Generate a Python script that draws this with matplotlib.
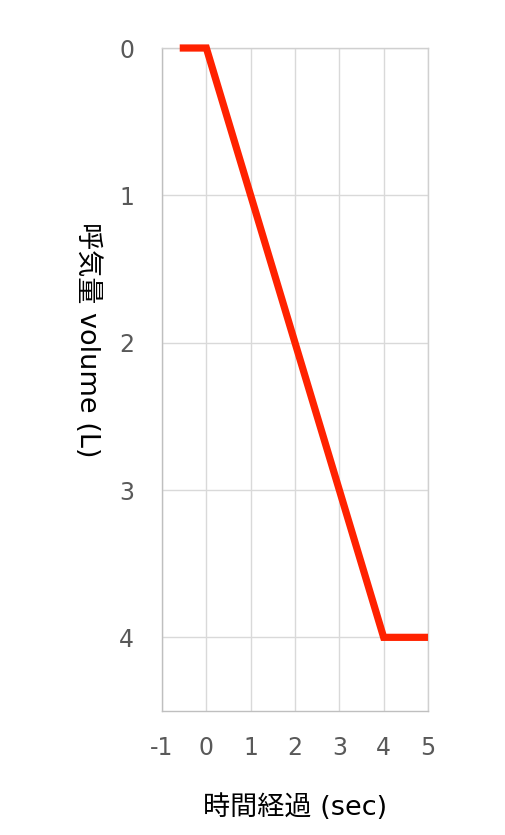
import matplotlib
matplotlib.use('Agg')
import matplotlib.pyplot as plt

# time (sec) and exhaled volume (L)
time_sec = [-0.6, 0, 4, 5]
volume_l = [0, 0, 4, 4]

x_ticks = [-1, 0, 1, 2, 3, 4, 5]
x_labels = ['-1', '0', '1', '2', '3', '4', '5']
y_ticks = [0, 1, 2, 3, 4]

plt.rcParams['font.family'] = ['DejaVu Sans', 'Noto Sans CJK JP']

fig = plt.figure(figsize=(5.05, 8.35), dpi=100)
ax = fig.add_axes([0.3208, 0.1485, 0.8475 - 0.3208, 0.9425 - 0.1485])

ax.plot(time_sec, volume_l, color='#ff2200', linewidth=5.2, solid_capstyle='butt',
        solid_joinstyle='miter', clip_on=False, zorder=3)

ax.set_xlim(-1, 5)
ax.set_ylim(4.5, 0)
ax.set_xticks(x_ticks)
ax.set_xticklabels(x_labels)
ax.set_yticks(y_ticks)
ax.grid(True, color='#d9d9d9', linewidth=1)
ax.set_axisbelow(True)
for s in ax.spines.values():
    s.set_color('#d0d0d0')
    s.set_linewidth(1)
ax.spines['left'].set_color('#bfbfbf')
ax.spines['bottom'].set_color('#bfbfbf')

ax.tick_params(length=0, labelsize=17, labelcolor='#595959')
ax.tick_params(axis='y', pad=20)
ax.tick_params(axis='x', pad=18)

ax.set_xlabel('時間経過 (sec)', fontsize=19.5)
ax.set_ylabel('呼気量 volume (L)', fontsize=19.5, rotation=-90, va='center')
ax.yaxis.set_label_coords(-0.28, 0.56)
ax.xaxis.set_label_coords(0.5, -0.125)

fig.savefig('out.png', dpi=100)
